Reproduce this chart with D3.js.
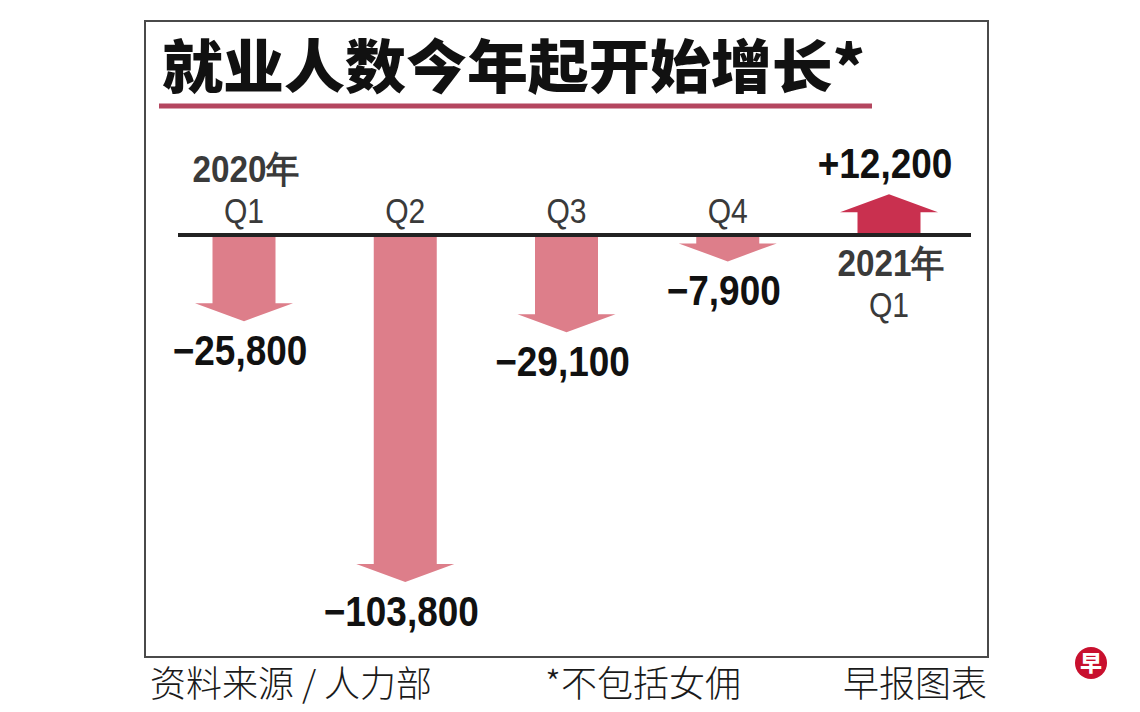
<!DOCTYPE html>
<html>
<head>
<meta charset="utf-8">
<script src="https://cdn.jsdelivr.net/npm/d3@7/dist/d3.min.js"></script>
<style>
  html, body { margin: 0; padding: 0; background: #fff; }
  svg { display: block; }
</style>
</head>
<body>
<svg id="chart" width="1140" height="712"></svg>
<script>
// ---- data ----
const periodIds = ["2020Q1", "2020Q2", "2020Q3", "2020Q4", "2021Q1"];
const quarterLabels = ["Q1", "Q2", "Q3", "Q4", "Q1"];
const yearLabels = ["2020年", "", "", "", "2021年"];
const changes = [-25800, -103800, -29100, -7900, 12200];
const titleText = "就业人数今年起开始增长*";
const footerSource = "资料来源 / 人力部";
const footerNote = "*不包括女佣";
const footerCredit = "早报图表";

// ---- layout ----
const W = 1140, H = 712;
const svg = d3.select("#chart");
const latin = "'Liberation Sans', Arial, Helvetica, sans-serif";
const cjk = "'Noto Sans CJK SC', 'Noto Sans', sans-serif";

const x = d3.scalePoint().domain(periodIds).range([244, 889]);
const y = d3.scaleLinear().domain([0, -103800]).range([235, 582]);
const fmt = v => (v > 0 ? d3.format("+,")(v) : d3.format(",")(v));

// frame
svg.append("rect")
  .attr("x", 145).attr("y", 21).attr("width", 843).attr("height", 636)
  .attr("fill", "none").attr("stroke", "#4a4a4a").attr("stroke-width", 2);

// title
svg.append("text")
  .attr("x", 162).attr("y", 88)
  .attr("font-family", cjk).attr("font-weight", 900).attr("font-size", 58)
  .attr("fill", "#111")
  .attr("textLength", 703).attr("lengthAdjust", "spacingAndGlyphs")
  .text(titleText);
svg.append("line")
  .attr("x1", 159).attr("x2", 872).attr("y1", 106).attr("y2", 106)
  .attr("stroke", "#b4465f").attr("stroke-width", 5);

// arrows
const shaftHalf = 31.5, headHalf = 49, headLen = 18;
const y0 = y(0);
function arrowPath(d, i) {
  const cx = x(periodIds[i]);
  const yt = y(d);
  const yb = yt - Math.sign(yt - y0) * headLen;
  return `M${cx - shaftHalf},${y0} L${cx - shaftHalf},${yb} L${cx - headHalf},${yb} ` +
         `L${cx},${yt} L${cx + headHalf},${yb} L${cx + shaftHalf},${yb} L${cx + shaftHalf},${y0} Z`;
}
svg.append("g").selectAll("path")
  .data(changes)
  .join("path")
  .attr("d", arrowPath)
  .attr("fill", d => d < 0 ? "#dd7e8a" : "#c9304f");

// baseline
svg.append("line")
  .attr("x1", 178).attr("x2", 971).attr("y1", y0).attr("y2", y0)
  .attr("stroke", "#222").attr("stroke-width", 4);

// value labels
svg.append("g").selectAll("text")
  .data(changes)
  .join("text")
  .attr("transform", (d, i) => {
    const ty = d < 0 ? y(d) + 44 : y(d) - 16;
    return `translate(${x(periodIds[i]) - 4},${ty}) scale(0.88,1)`;
  })
  .attr("text-anchor", "middle")
  .attr("font-family", latin).attr("font-weight", 700).attr("font-size", 42)
  .attr("fill", "#111")
  .text(d => fmt(d));

// quarter labels
svg.append("g").selectAll("text")
  .data(changes)
  .join("text")
  .attr("transform", (d, i) => {
    const ty = d < 0 ? y0 - 12 : y0 + 82;
    return `translate(${x(periodIds[i])},${ty}) scale(0.86,1)`;
  })
  .attr("text-anchor", "middle")
  .attr("font-family", latin).attr("font-weight", 400).attr("font-size", 35)
  .attr("fill", "#3a3a3a")
  .text((d, i) => quarterLabels[i]);

// year labels
svg.append("g").selectAll("text")
  .data(changes)
  .join("text")
  .attr("transform", (d, i) => {
    const ty = d < 0 ? y0 - 53 : y0 + 41;
    return `translate(${x(periodIds[i]) + 2},${ty}) scale(0.9,1)`;
  })
  .attr("text-anchor", "middle")
  .attr("font-family", latin).attr("font-weight", 700).attr("font-size", 37)
  .attr("fill", "#3a3a3a")
  .text((d, i) => yearLabels[i]);

// footer
const foot = svg.append("g")
  .attr("font-family", cjk).attr("font-weight", 300).attr("font-size", 36).attr("fill", "#1a1a1a");
foot.append("text").attr("x", 150).attr("y", 697).text(footerSource);
foot.append("text").attr("x", 545).attr("y", 697).text(footerNote);
foot.append("text").attr("x", 987).attr("y", 697).attr("text-anchor", "end").text(footerCredit);

// logo
svg.append("circle").attr("cx", 1091).attr("cy", 663).attr("r", 16).attr("fill", "#c8102e");
svg.append("text").attr("x", 1091).attr("y", 671)
  .attr("text-anchor", "middle").attr("font-family", cjk).attr("font-weight", 900)
  .attr("font-size", 22).attr("fill", "#fff").text("早");
</script>
</body>
</html>
